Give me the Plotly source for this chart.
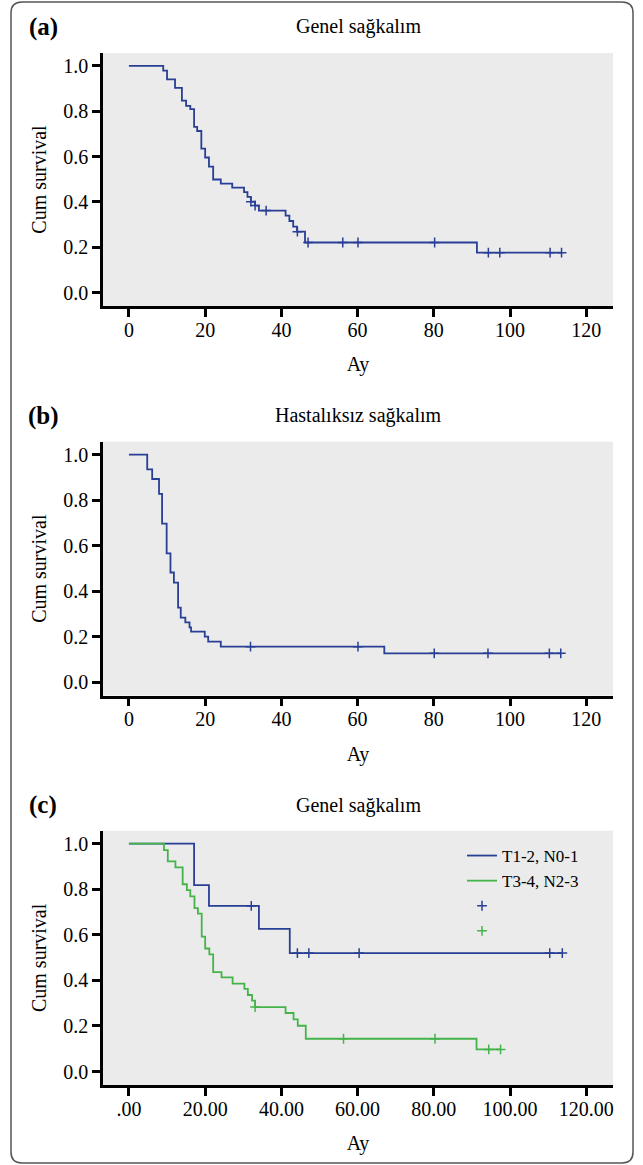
import plotly.graph_objects as go

# ---------------- data ----------------
# Panel (a): Genel sağkalım
a_time = [0, 9.0, 10.0, 12.1, 13.9, 15.0, 16.1, 17.1, 17.9, 19.0, 20.0, 21.0, 22.1, 24.1,
          27.1, 30.2, 31.1, 32.0, 33.1, 34.1, 41.1, 42.1, 43.1, 44.1, 46.2, 91.3, 113.5]
a_surv = [1.0, 0.979, 0.941, 0.903, 0.847, 0.824, 0.809, 0.731, 0.713, 0.635, 0.596, 0.556,
          0.499, 0.481, 0.463, 0.443, 0.422, 0.401, 0.384, 0.362, 0.340, 0.316, 0.291, 0.269,
          0.221, 0.176, 0.176]
a_cens_time = [32.0, 33.1, 36.0, 44.2, 47.0, 56.1, 60.1, 80.2, 94.3, 97.3, 110.5, 113.5]
a_cens_surv = [0.401, 0.384, 0.362, 0.269, 0.221, 0.221, 0.221, 0.221, 0.176, 0.176, 0.176, 0.176]

# Panel (b): Hastalıksız sağkalım
b_time = [0, 4.8, 6.1, 7.9, 8.7, 9.9, 10.9, 11.8, 12.9, 13.6, 14.8, 15.9, 16.3, 19.9, 20.8,
          24.1, 67.0, 113.3]
b_surv = [1.0, 0.935, 0.893, 0.828, 0.697, 0.566, 0.482, 0.438, 0.328, 0.284, 0.263, 0.241,
          0.222, 0.200, 0.178, 0.156, 0.127, 0.127]
b_cens_time = [31.9, 60.1, 80.1, 94.2, 110.3, 113.3]
b_cens_surv = [0.156, 0.156, 0.127, 0.127, 0.127, 0.127]

# Panel (c): Genel sağkalım by group
c1_name = "T1-2, N0-1"
c1_time = [0, 17.1, 21.0, 34.1, 42.2, 113.7]
c1_surv = [1.0, 0.818, 0.727, 0.626, 0.520, 0.520]
c1_cens_time = [32.1, 44.2, 47.2, 60.4, 110.4, 113.7]
c1_cens_surv = [0.727, 0.520, 0.520, 0.520, 0.520, 0.520]

c2_name = "T3-4, N2-3"
c2_time = [0, 9.2, 10.2, 12.2, 14.1, 15.2, 16.1, 17.2, 18.1, 19.1, 20.0, 21.1, 22.1, 24.3,
           27.2, 30.3, 31.2, 32.3, 33.1, 41.1, 43.2, 44.3, 46.4, 91.2, 97.5]
c2_surv = [1.0, 0.972, 0.922, 0.896, 0.822, 0.796, 0.769, 0.717, 0.693, 0.592, 0.540, 0.514,
           0.436, 0.413, 0.386, 0.363, 0.336, 0.311, 0.283, 0.257, 0.229, 0.201, 0.144, 0.097,
           0.097]
c2_cens_time = [33.1, 56.3, 80.3, 94.4, 97.5]
c2_cens_surv = [0.283, 0.144, 0.144, 0.097, 0.097]

x_tickvals = [0, 20, 40, 60, 80, 100, 120]
x_ticktext_ab = ["0", "20", "40", "60", "80", "100", "120"]
x_ticktext_c = [".00", "20.00", "40.00", "60.00", "80.00", "100.00", "120.00"]
y_tickvals = [0.0, 0.2, 0.4, 0.6, 0.8, 1.0]

panel_titles = ["Genel sağkalım", "Hastalıksız sağkalım", "Genel sağkalım"]
panel_labels = ["(a)", "(b)", "(c)"]
x_title = "Ay"
y_title = "Cum survival"

# ---------------- styling ----------------
BLUE = "#283f95"
GREEN = "#44b44a"
BG = "#ebebeb"
FONT = "'Liberation Serif', 'Times New Roman', Times, serif"
W, H = 643, 1165
ML, MR, MT, MB = 103, 30, 53, 80
PW, PH = W - ML - MR, H - MT - MB


def px_x(px):
    return (px - ML) / PW


def px_y(py):
    return (H - MB - py) / PH


fig = go.Figure()


def step(x, y, color, xa, ya, name=None, show=False):
    fig.add_trace(go.Scatter(x=x, y=y, mode="lines", line=dict(color=color, width=1.8, shape="hv"),
                             xaxis=xa, yaxis=ya, name=name, showlegend=show, hoverinfo="x+y"))


def cens(x, y, color, xa, ya, name=" ", show=False):
    fig.add_trace(go.Scatter(x=x, y=y, mode="markers",
                             marker=dict(symbol="cross-thin", size=7, color=color,
                                         line=dict(color=color, width=1.5)),
                             xaxis=xa, yaxis=ya, name=name, showlegend=show, hoverinfo="x+y"))


step(a_time, a_surv, BLUE, "x", "y")
cens(a_cens_time, a_cens_surv, BLUE, "x", "y")
step(b_time, b_surv, BLUE, "x2", "y2")
cens(b_cens_time, b_cens_surv, BLUE, "x2", "y2")
step(c1_time, c1_surv, BLUE, "x3", "y3", c1_name, True)
step(c2_time, c2_surv, GREEN, "x3", "y3", c2_name, True)
cens(c1_cens_time, c1_cens_surv, BLUE, "x3", "y3", " ", True)
cens(c2_cens_time, c2_cens_surv, GREEN, "x3", "y3", " ", True)

domains = [
    [px_y(306), 1.0],
    [px_y(695.6), px_y(441.7)],
    [0.0, px_y(830.7)],
]
xr = [-6.8, 127.0]
yr = [-0.059, 1.057]

axis_common = dict(showline=True, linecolor="black", linewidth=2.5, ticks="outside",
                   ticklen=8, tickwidth=2.5, tickcolor="black", showgrid=False, zeroline=False,
                   tickfont=dict(family=FONT, size=20, color="black"))

layout = dict(
    width=W, height=H, paper_bgcolor="white", plot_bgcolor=BG,
    margin=dict(l=ML, r=MR, t=MT, b=MB),
    font=dict(family=FONT, size=20, color="black"),
    showlegend=True,
    legend=dict(x=px_x(462), y=px_y(838), xanchor="left", yanchor="top",
                bgcolor="rgba(0,0,0,0)", font=dict(family=FONT, size=17, color="black"),
                tracegroupgap=0, itemwidth=30),
)

for i in range(3):
    sfx = "" if i == 0 else str(i + 1)
    ticktext = x_ticktext_c if i == 2 else x_ticktext_ab
    layout["xaxis" + sfx] = dict(axis_common, domain=[0, 1], range=xr, anchor="y" + sfx,
                                 tickvals=x_tickvals, ticktext=ticktext, ticklabelstandoff=-4,
                                 title=dict(text=x_title, standoff=18,
                                            font=dict(family=FONT, size=20)))
    layout["yaxis" + sfx] = dict(axis_common, domain=domains[i], range=yr, anchor="x" + sfx,
                                 tickvals=y_tickvals, tickformat=".1f",
                                 title=dict(text=y_title, standoff=12,
                                            font=dict(family=FONT, size=20)))

fig.update_layout(**layout)

title_py = [27, 416, 805]
for i in range(3):
    fig.add_annotation(x=0.5, y=px_y(title_py[i]), xref="paper", yref="paper",
                       text=panel_titles[i], showarrow=False, xanchor="center", yanchor="middle",
                       font=dict(family=FONT, size=20, color="black"))
    fig.add_annotation(x=px_x(43), y=px_y(title_py[i]), xref="paper", yref="paper",
                       text="<b>" + panel_labels[i] + "</b>", showarrow=False,
                       xanchor="center", yanchor="middle",
                       font=dict(family=FONT, size=25, color="black"))

# rounded outer frame
x0, x1, y0, y1, r = 11, 633, 2, 1163, 11
path = (f"M {px_x(x0 + r)},{px_y(y0)} L {px_x(x1 - r)},{px_y(y0)} "
        f"Q {px_x(x1)},{px_y(y0)} {px_x(x1)},{px_y(y0 + r)} "
        f"L {px_x(x1)},{px_y(y1 - r)} Q {px_x(x1)},{px_y(y1)} {px_x(x1 - r)},{px_y(y1)} "
        f"L {px_x(x0 + r)},{px_y(y1)} Q {px_x(x0)},{px_y(y1)} {px_x(x0)},{px_y(y1 - r)} "
        f"L {px_x(x0)},{px_y(y0 + r)} Q {px_x(x0)},{px_y(y0)} {px_x(x0 + r)},{px_y(y0)} Z")
fig.add_shape(type="path", path=path, xref="paper", yref="paper",
              line=dict(color="#555555", width=1.5), layer="above")

fig.write_html("out.html", config={"displayModeBar": False},
               post_script="document.body.style.margin='0';")
